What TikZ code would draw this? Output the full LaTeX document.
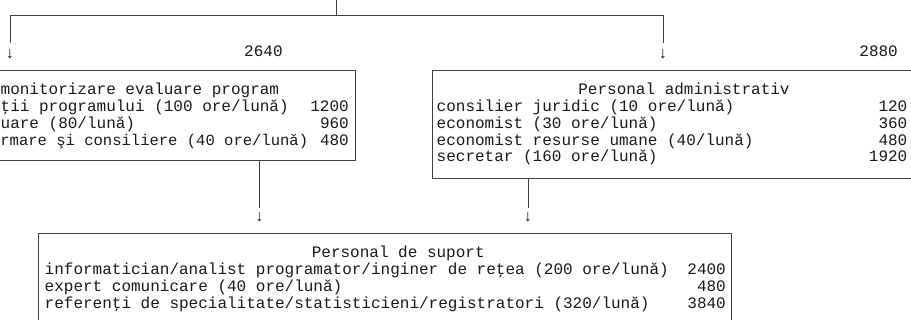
\documentclass[tikz,border=0pt]{standalone}
\usepackage{fontspec}
\newfontfamily\boxfont{Liberation Mono}
\usetikzlibrary{positioning}

\tikzset{
  row/.style={font=\boxfont\fontsize{16.06}{17}\selectfont,text=black!90,inner sep=0pt,anchor=base west},
  sum/.style={row,anchor=base east},
  head/.style={row,anchor=base},
  unit/.style={draw=black!75,line width=1bp,inner sep=0pt},
  link/.style={draw=black!75,line width=1bp},
  tip/.style={font=\boxfont\fontsize{16.06}{17}\selectfont,text=black!90,inner sep=0pt,anchor=base,text height=7bp,text depth=0bp,outer ysep=9bp},
}

\begin{document}
\begin{tikzpicture}[line join=bevel]
\useasboundingbox (0,0) rectangle (911bp,320bp);
\clip (0,0) rectangle (911bp,320bp);
%%
\coordinate (root) at (336bp,320bp);
\coordinate (fork) at (336bp,304.5bp);
\node (tip_l) at (10bp,261bp) [tip] {↓};
\node (tip_r) at (663bp,261bp) [tip] {↓};
\node (sum_l) at (244bp,263bp) [row] {2640};
\node (sum_r) at (898bp,263bp) [sum] {2880};
%
\node (node_mon) at (157.5bp,204.3bp) [unit,minimum width=395bp,minimum height=90bp] {};
\node (node_adm) at (681bp,195.5bp) [unit,minimum width=498bp,minimum height=107.6bp] {};
\node (node_sup) at (384.65bp,30.5bp) [unit,minimum width=692.7bp,minimum height=111bp] {};
%
\node (mon_0) at (0.5bp,225.3bp) [row] {monitorizare evaluare program};
\node (mon_1) at (0.5bp,208.5bp) [row] {ţii programului (100 ore/lună)};
\node (mon_2) at (0.5bp,191.7bp) [row] {uare (80/lună)};
\node (mon_3) at (0.2bp,174.9bp) [row,font=\boxfont\fontsize{15.6}{17}\selectfont] {rmare şi consiliere (40 ore/lună)};
\node (mon_1v) at (349bp,208.5bp) [sum] {1200};
\node (mon_2v) at (349bp,191.7bp) [sum] {960};
\node (mon_3v) at (349bp,174.9bp) [sum] {480};
%
\node (adm_0) at (684bp,225.3bp) [head] {Personal administrativ};
\node (adm_1) at (436.5bp,208.5bp) [row] {consilier juridic (10 ore/lună)};
\node (adm_2) at (436.5bp,191.7bp) [row] {economist (30 ore/lună)};
\node (adm_3) at (436.5bp,174.9bp) [row] {economist resurse umane (40/lună)};
\node (adm_4) at (436.5bp,158.1bp) [row] {secretar (160 ore/lună)};
\node (adm_1v) at (907.5bp,208.5bp) [sum] {120};
\node (adm_2v) at (907.5bp,191.7bp) [sum] {360};
\node (adm_3v) at (907.5bp,174.9bp) [sum] {480};
\node (adm_4v) at (907.5bp,158.1bp) [sum] {1920};
%
\node (sup_0) at (311.6bp,62bp) [row] {Personal de suport};
\node (sup_1) at (44.5bp,45.2bp) [row] {informatician/analist programator/inginer de reţea (200 ore/lună)};
\node (sup_2) at (44.5bp,28.4bp) [row] {expert comunicare (40 ore/lună)};
\node (sup_3) at (44.5bp,11.6bp) [row] {referenţi de specialitate/statisticieni/registratori (320/lună)};
\node (sup_1v) at (726bp,45.2bp) [sum] {2400};
\node (sup_2v) at (726bp,28.4bp) [sum] {480};
\node (sup_3v) at (726bp,11.6bp) [sum] {3840};
%
\node (tip_ml) at (259.3bp,98bp) [tip,outer ysep=7bp] {↓};
\node (tip_ar) at (528bp,98bp) [tip,outer ysep=7bp] {↓};
%
\draw [link] (root) -- (fork) -| (tip_l.north);
\draw [link] (fork) -| (tip_r.north);
\draw [link] (tip_ml |- node_mon.south) -- (tip_ml.north);
\draw [link] (tip_ar |- node_adm.south) -- (tip_ar.north);
%
\end{tikzpicture}
\end{document}
